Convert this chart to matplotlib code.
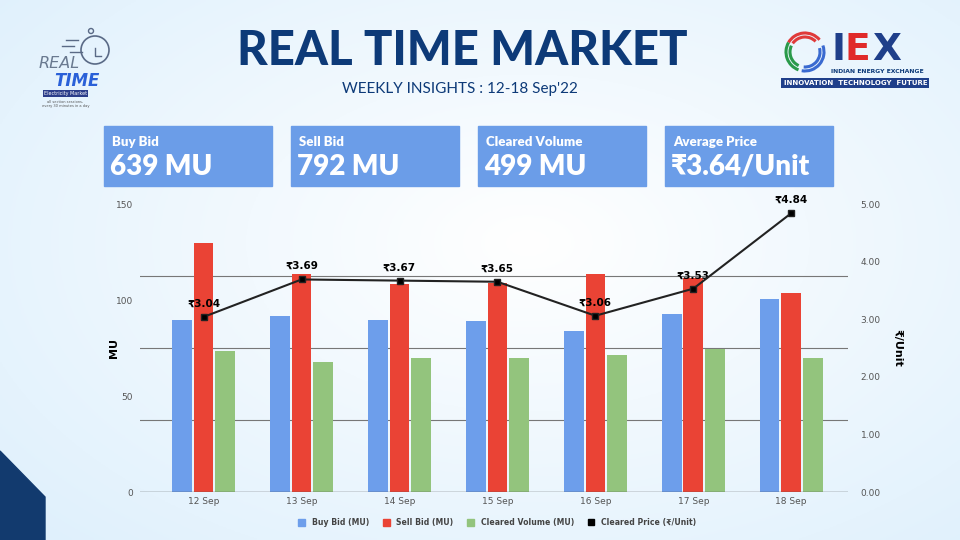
import matplotlib.pyplot as plt
import matplotlib.patches as mpatches
from matplotlib.lines import Line2D
import numpy as np

plt.rcParams['font.family'] = ['DejaVu Sans']

days = ["12 Sep", "13 Sep", "14 Sep", "15 Sep", "16 Sep", "17 Sep", "18 Sep"]
buy_bid = [89.6, 91.8, 89.6, 88.9, 83.9, 92.5, 100.7]
sell_bid = [129.7, 113.5, 108.5, 109.0, 113.7, 111.6, 103.6]
cleared_vol = [73.6, 67.5, 69.8, 69.8, 71.5, 74.5, 69.8]
cleared_price = [3.04, 3.69, 3.67, 3.65, 3.06, 3.53, 4.84]

box_titles = ["Buy Bid", "Sell Bid", "Cleared Volume", "Average Price"]
box_values = ["639 MU", "792 MU", "499 MU", "₹3.64/Unit"]

navy = "#0d3a78"
blue = "#6d9eeb"
red = "#ea4335"
green = "#93c47d"
box_col = "#6b9de8"

fig = plt.figure(figsize=(9.6, 5.4), dpi=100)

# background gradient
bg = fig.add_axes([0, 0, 1, 1], zorder=-10)
yy, xx = np.mgrid[0:1:200j, 0:1:360j]
r = np.sqrt(((xx - 0.55) / 0.75) ** 2 + ((yy - 0.45) / 0.8) ** 2)
r = np.clip(r, 0, 1)
c0 = np.array([1.0, 1.0, 1.0])
c1 = np.array([0.87, 0.94, 0.99])
img = c0[None, None, :] * (1 - r[..., None]) + c1[None, None, :] * r[..., None]
bg.imshow(img, extent=[0, 960, 0, 540], aspect='auto', origin='upper')
bg.add_patch(mpatches.Polygon([[0, 0], [0, 89], [45, 43], [45, 0]],
                              closed=True, color="#123a6e"))
# stopwatch sketch of the left logo
bg.add_patch(mpatches.Circle((95, 490), 14, fill=False, ec="#5a6a86", lw=1.2))
bg.add_patch(mpatches.Circle((91, 509), 2.5, fill=False, ec="#5a6a86", lw=1.0))
bg.plot([95, 95, 101], [492, 484, 484], color="#5a6a86", lw=1.0)
for yl, x0 in [(500, 66), (494, 62), (488, 70)]:
    bg.plot([x0, x0 + 12], [yl, yl], color="#5a6a86", lw=1.0)
# swirl of the IEX logo
for rr, col, t1, t2 in [(19, "#e03a3a", 40, 150), (15, "#e03a3a", 45, 145),
                        (19, "#2a9a4a", 150, 250), (15, "#2a9a4a", 155, 245),
                        (19, "#3a6ad0", 260, 380), (15, "#3a6ad0", 265, 375)]:
    bg.add_patch(mpatches.Arc((805, 488), 2 * rr, 2 * rr, theta1=t1, theta2=t2,
                              color=col, lw=2.2))
bg.set_xlim(0, 960)
bg.set_ylim(0, 540)
bg.axis('off')

# title
fig.text(0.481, 0.905, "REAL TIME MARKET", family="Lato", weight="black",
         fontsize=34, color=navy, ha="center", va="center")
fig.text(0.479, 0.836, "WEEKLY INSIGHTS : 12-18 Sep'22", family="Lato",
         fontsize=11, color=navy, ha="center", va="center")

# left logo (text approximation)
fig.text(0.062, 0.883, "REAL", family="DejaVu Sans", style="italic",
         fontsize=11.5, color="#6a7a90", ha="center", va="center")
fig.text(0.080, 0.850, "TIME", family="DejaVu Sans", style="italic", weight="bold",
         fontsize=12, color="#2a60d8", ha="center", va="center")
fig.text(0.068, 0.826, "Electricity Market", fontsize=3.5, color="white",
         ha="center", va="center",
         bbox=dict(boxstyle="square,pad=0.2", fc="#2b3d8a", ec="none"))
fig.text(0.068, 0.808, "all section sessions,\nevery 30 minutes in a day", fontsize=2.6,
         color="#555555", ha="center", va="center", linespacing=1.0)

# right logo (text approximation)
fig.text(0.866, 0.907, "I", weight="bold", fontsize=27, color="#1f3f8a",
         ha="left", va="center")
fig.text(0.880, 0.907, "E", weight="bold", fontsize=27, color="#e02a2a",
         ha="left", va="center")
fig.text(0.909, 0.907, "X", weight="bold", fontsize=27, color="#1f3f8a",
         ha="left", va="center")
fig.text(0.914, 0.868, "INDIAN ENERGY EXCHANGE", weight="bold", fontsize=4.4,
         color=navy, ha="center", va="center")
fig.text(0.891, 0.847, "INNOVATION  TECHNOLOGY  FUTURE", weight="bold",
         fontsize=5.0, color="white", ha="center", va="center",
         bbox=dict(boxstyle="square,pad=0.3", fc="#1f3f8a", ec="none"))

# summary boxes
box_left = [104, 291, 478, 665]
for x0, t, v in zip(box_left, box_titles, box_values):
    fig.patches.append(mpatches.Rectangle((x0 / 960, 1 - 186 / 540), 168 / 960, 60 / 540,
                                          transform=fig.transFigure, color=box_col, zorder=1))
    fig.text((x0 + 8) / 960, 1 - 142 / 540, t, family="Lato", weight="heavy",
             fontsize=9.5, color="white", ha="left", va="center")
    fig.text((x0 + 6) / 960, 1 - 167 / 540, v, family="Lato", weight="heavy",
             fontsize=20, color="white", ha="left", va="center")

# main chart
ax = fig.add_axes([140 / 960, 1 - 492 / 540, 708 / 960, 288 / 540])
ax.set_facecolor("none")
x = np.arange(len(days))
w = 0.2
off = 0.22
ax.bar(x - off, buy_bid, w, color=blue, label="Buy Bid (MU)", zorder=2)
ax.bar(x, sell_bid, w, color=red, label="Sell Bid (MU)", zorder=2)
ax.bar(x + off, cleared_vol, w, color=green, label="Cleared Volume (MU)", zorder=2)
ax.set_ylim(0, 150)
ax.set_xlim(-0.65, 6.58)
ax.set_yticks([0, 50, 100, 150])
for gy in [37.5, 75, 112.5]:
    ax.axhline(gy, color="#777777", lw=0.8, zorder=1)
ax.axhline(0, color="#555555", lw=1.0, zorder=3)
for s in ax.spines.values():
    s.set_visible(False)
ax.tick_params(axis="both", length=0, labelsize=6.5, colors="#555555")
ax.tick_params(axis="y", pad=5)
ax.set_xticks(x)
ax.set_xticklabels(days)
ax.set_ylabel("MU", fontsize=8, weight="bold", color="black", labelpad=-2)

ax2 = ax.twinx()
ax2.set_ylim(0, 5)
ax2.set_yticks([0, 1, 2, 3, 4, 5])
ax2.set_yticklabels(["%.2f" % v for v in [0, 1, 2, 3, 4, 5]])
ax2.plot(x, cleared_price, color="#222222", lw=1.5, marker="s", markersize=5,
         markerfacecolor="black", zorder=5)
for xi, p in zip(x, cleared_price):
    ax2.annotate("₹%.2f" % p, (xi, p), xytext=(0, 6), textcoords="offset points",
                 ha="center", va="bottom", fontsize=7.5, weight="bold", color="black")
for s in ax2.spines.values():
    s.set_visible(False)
ax2.tick_params(axis="y", length=0, labelsize=6.5, colors="#555555", pad=9)
ax2.set_ylabel("₹/Unit", fontsize=8, weight="bold", color="black", rotation=-90,
               labelpad=16)

handles = [mpatches.Patch(color=blue), mpatches.Patch(color=red),
           mpatches.Patch(color=green),
           Line2D([], [], marker="s", color="black", ls="none", markersize=4.5)]
labels = ["Buy Bid (MU)", "Sell Bid (MU)", "Cleared Volume (MU)", "Cleared Price (₹/Unit)"]
leg = fig.legend(handles, labels, loc="center", bbox_to_anchor=(0.518, 0.032), ncol=4,
                 frameon=False, fontsize=5.6, handlelength=0.9, handleheight=0.9,
                 columnspacing=1.8, handletextpad=0.8)
for t in leg.get_texts():
    t.set_color("#444444")
    t.set_weight("bold")

fig.savefig("out.png", dpi=100)
